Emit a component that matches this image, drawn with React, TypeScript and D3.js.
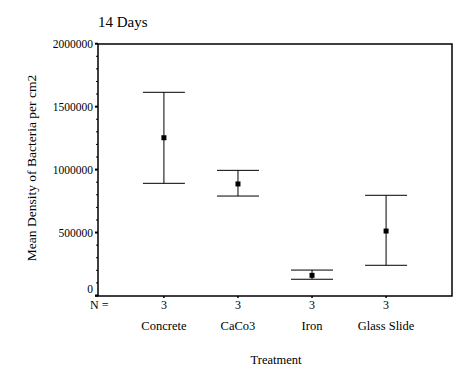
import React from "react";
import * as d3 from "d3";

const categories = ["Concrete", "CaCo3", "Iron", "Glass Slide"];
const means = [1253000, 886000, 160000, 512000];
const upper = [1614000, 994000, 202000, 796000];
const lower = [891000, 790000, 129000, 240000];
const nLabels = ["3", "3", "3", "3"];
const yTicks = [0, 500000, 1000000, 1500000, 2000000];

const W = 472, H = 377;
const left = 98, right = 452, top = 44, bottom = 296;
const font = "'Liberation Serif', 'Times New Roman', serif";

export default function App() {
  const x = d3.scalePoint<string>().domain(categories).range([left, right]).padding(0.89);
  const y = d3.scaleLinear().domain([0, 2000000]).range([295.5, 43.7]);
  const minor = d3.range(0, 2000001, 100000).filter((v) => v % 500000 !== 0);
  const cap = 21;
  return (
    <svg width={W} height={H} style={{ position: "absolute", left: 0, top: 0, background: "#fff" }}>
      <rect x={0} y={0} width={W} height={H} fill="#fff" />
      <text x={98} y={27} fontFamily={font} fontSize={15}>14 Days</text>
      <rect x={left} y={top} width={right - left} height={bottom - top} fill="none" stroke="#000" strokeWidth={1.5} />
      <line x1={95} x2={left} y1={bottom} y2={bottom} stroke="#000" strokeWidth={1.5} />
      {yTicks.map((t) => (
        <g key={t}>
          <line x1={95} x2={left} y1={y(t)} y2={y(t)} stroke="#000" strokeWidth={2} />
          <text x={93} y={y(t) + (t === 0 ? -3 : 4)} textAnchor="end" fontFamily={font} fontSize={11.5}>{t}</text>
        </g>
      ))}
      {minor.map((t) => (
        <line key={t} x1={96} x2={left} y1={y(t)} y2={y(t)} stroke="#000" strokeWidth={1} />
      ))}
      <text x={90} y={309} fontFamily={font} fontSize={12}>N =</text>
      {categories.map((c, i) => {
        const cx = x(c)!;
        return (
          <g key={c}>
            <line x1={cx} x2={cx} y1={bottom} y2={bottom + 2} stroke="#000" strokeWidth={1.5} />
            <text x={cx} y={309} textAnchor="middle" fontFamily={font} fontSize={12}>{nLabels[i]}</text>
            <text x={cx} y={330} textAnchor="middle" fontFamily={font} fontSize={12.5}>{c}</text>
            <line x1={cx} x2={cx} y1={y(upper[i])} y2={y(lower[i])} stroke="#000" strokeWidth={1} />
            <line x1={cx - cap} x2={cx + cap} y1={y(upper[i])} y2={y(upper[i])} stroke="#000" strokeWidth={1} />
            <line x1={cx - cap} x2={cx + cap} y1={y(lower[i])} y2={y(lower[i])} stroke="#000" strokeWidth={1} />
            <rect x={cx - 2.5} y={y(means[i]) - 2.5} width={5} height={5} fill="#000" />
          </g>
        );
      })}
      <text x={276} y={364} textAnchor="middle" fontFamily={font} fontSize={12.5}>Treatment</text>
      <text transform={`translate(36,168) rotate(-90)`} textAnchor="middle" fontFamily={font} fontSize={13.5}>Mean Density of Bacteria per cm2</text>
    </svg>
  );
}
